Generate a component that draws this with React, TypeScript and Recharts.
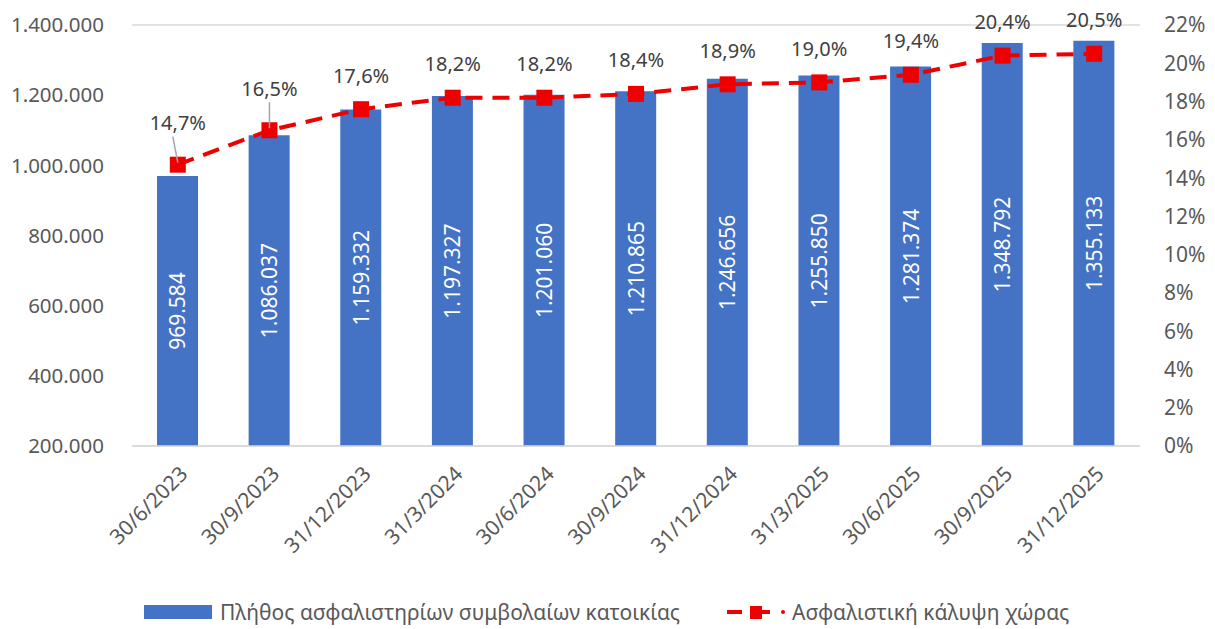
import { ComposedChart, Bar, Line, XAxis, YAxis, CartesianGrid, LabelList, Legend } from 'recharts';

const dates = ['30/6/2023', '30/9/2023', '31/12/2023', '31/3/2024', '30/6/2024', '30/9/2024', '31/12/2024', '31/3/2025', '30/6/2025', '30/9/2025', '31/12/2025'];
const policies = [969584, 1086037, 1159332, 1197327, 1201060, 1210865, 1246656, 1255850, 1281374, 1348792, 1355133];
const coverage = [14.7, 16.5, 17.6, 18.2, 18.2, 18.4, 18.9, 19.0, 19.4, 20.4, 20.5];
const leftTicks = [200000, 400000, 600000, 800000, 1000000, 1200000, 1400000];
const rightTicks = [0, 2, 4, 6, 8, 10, 12, 14, 16, 18, 20, 22];

const barName = 'Πλήθος ασφαλιστηρίων συμβολαίων κατοικίας';
const lineName = 'Ασφαλιστική κάλυψη χώρας';

const data = dates.map((d, i) => ({ date: d, policies: policies[i], coverage: coverage[i] }));

const FONT = '"Noto Sans", sans-serif';
const GREY = '#595959';

const fmtNum = (v: number) => String(Math.round(v)).replace(/\B(?=(\d{3})+(?!\d))/g, '.');
const fmtPct = (v: number) => v.toFixed(1).replace('.', ',') + '%';

function XTick(props: any) {
  const { x, y, payload } = props;
  const ax = x + 6;
  const ay = y + 16;
  return (
    <text
      x={ax}
      y={ay}
      transform={`rotate(-45 ${ax} ${ay})`}
      textAnchor="end"
      fontSize={21}
      fill={GREY}
      fontFamily={FONT}
      dy="0.35em"
    >
      {payload.value}
    </text>
  );
}

function BarValue(props: any) {
  const { x, y, width, height, value } = props;
  const cx = x + width / 2;
  const cy = y + height / 2;
  return (
    <text
      x={cx}
      y={cy}
      transform={`rotate(-90 ${cx} ${cy})`}
      textAnchor="middle"
      dominantBaseline="central"
      fontSize={21}
      fill="#ffffff"
      fontFamily={FONT}
    >
      {fmtNum(value)}
    </text>
  );
}

function PctLabel(props: any) {
  const { x, y, value, index } = props;
  const lifted = index < 2;
  const ty = lifted ? y - 42 : y - 34;
  return (
    <g>
      {lifted && <line x1={x - (index === 0 ? 5 : 0)} y1={ty + 14} x2={x} y2={y - 2} stroke="#a6a6a6" strokeWidth={1.5} />}
      <text x={x} y={ty} textAnchor="middle" dominantBaseline="central" fontSize={20} fill="#404040" fontFamily={FONT}>
        {fmtPct(value)}
      </text>
    </g>
  );
}

function Square(props: any) {
  const { cx, cy } = props;
  return <rect x={cx - 8} y={cy - 8} width={16} height={16} fill="#ee0000" />;
}

function LegendBox() {
  return (
    <div style={{ height: 50, position: 'relative', fontFamily: FONT, fontSize: 21, color: GREY }}>
      <div style={{ position: 'absolute', left: 144, top: 26, width: 68, height: 14, background: '#4472C4' }} />
      <div style={{ position: 'absolute', left: 220, top: 19, whiteSpace: 'nowrap', lineHeight: '28px' }}>{barName}</div>
      <svg style={{ position: 'absolute', left: 724, top: 22 }} width={70} height={22}>
        <line x1={3} y1={11} x2={18} y2={11} stroke="#ee0000" strokeWidth={4} />
        <rect x={26} y={5} width={12} height={13} fill="#ee0000" />
        <line x1={38} y1={11} x2={46} y2={11} stroke="#ee0000" strokeWidth={4} />
        <circle cx={59} cy={11} r={2} fill="#ee0000" />
      </svg>
      <div style={{ position: 'absolute', left: 792, top: 19, whiteSpace: 'nowrap', lineHeight: '28px' }}>{lineName}</div>
    </div>
  );
}

export default function App() {
  return (
    <div style={{ width: 1215, height: 629, background: '#fff', fontFamily: FONT }}>
      <style>{'body{margin:0}'}</style>
      <ComposedChart width={1215} height={629} data={data} margin={{ top: 25, right: 0, left: 0, bottom: 0 }} barSize={41}>
        <CartesianGrid vertical={false} stroke="#d9d9d9" strokeWidth={1.5} />
        <XAxis dataKey="date" height={133} tick={<XTick />} tickLine={false} axisLine={{ stroke: '#d9d9d9', strokeWidth: 1.5 }} interval={0} />
        <YAxis
          yAxisId="left"
          width={132}
          domain={[200000, 1400000]}
          ticks={leftTicks}
          tickFormatter={fmtNum}
          axisLine={false}
          tickLine={false}
          tick={{ fontSize: 20.5, fill: GREY, fontFamily: FONT }}
          tickMargin={22}
        />
        <YAxis
          yAxisId="right"
          orientation="right"
          width={75}
          domain={[0, 22]}
          ticks={rightTicks}
          tickFormatter={(v: number) => v + '%'}
          axisLine={false}
          tickLine={false}
          tick={{ fontSize: 21, fill: GREY, fontFamily: FONT }}
          tickMargin={18}
        />
        <Bar yAxisId="left" dataKey="policies" name={barName} fill="#4472C4" isAnimationActive={false}>
          <LabelList dataKey="policies" content={<BarValue />} />
        </Bar>
        <Line
          yAxisId="right"
          dataKey="coverage"
          name={lineName}
          type="linear"
          stroke="#ee0000"
          strokeWidth={4}
          strokeDasharray="17 10"
          dot={<Square />}
          activeDot={false}
          isAnimationActive={false}
        >
          <LabelList dataKey="coverage" content={<PctLabel />} />
        </Line>
        <Legend verticalAlign="bottom" content={<LegendBox />} />
      </ComposedChart>
    </div>
  );
}
